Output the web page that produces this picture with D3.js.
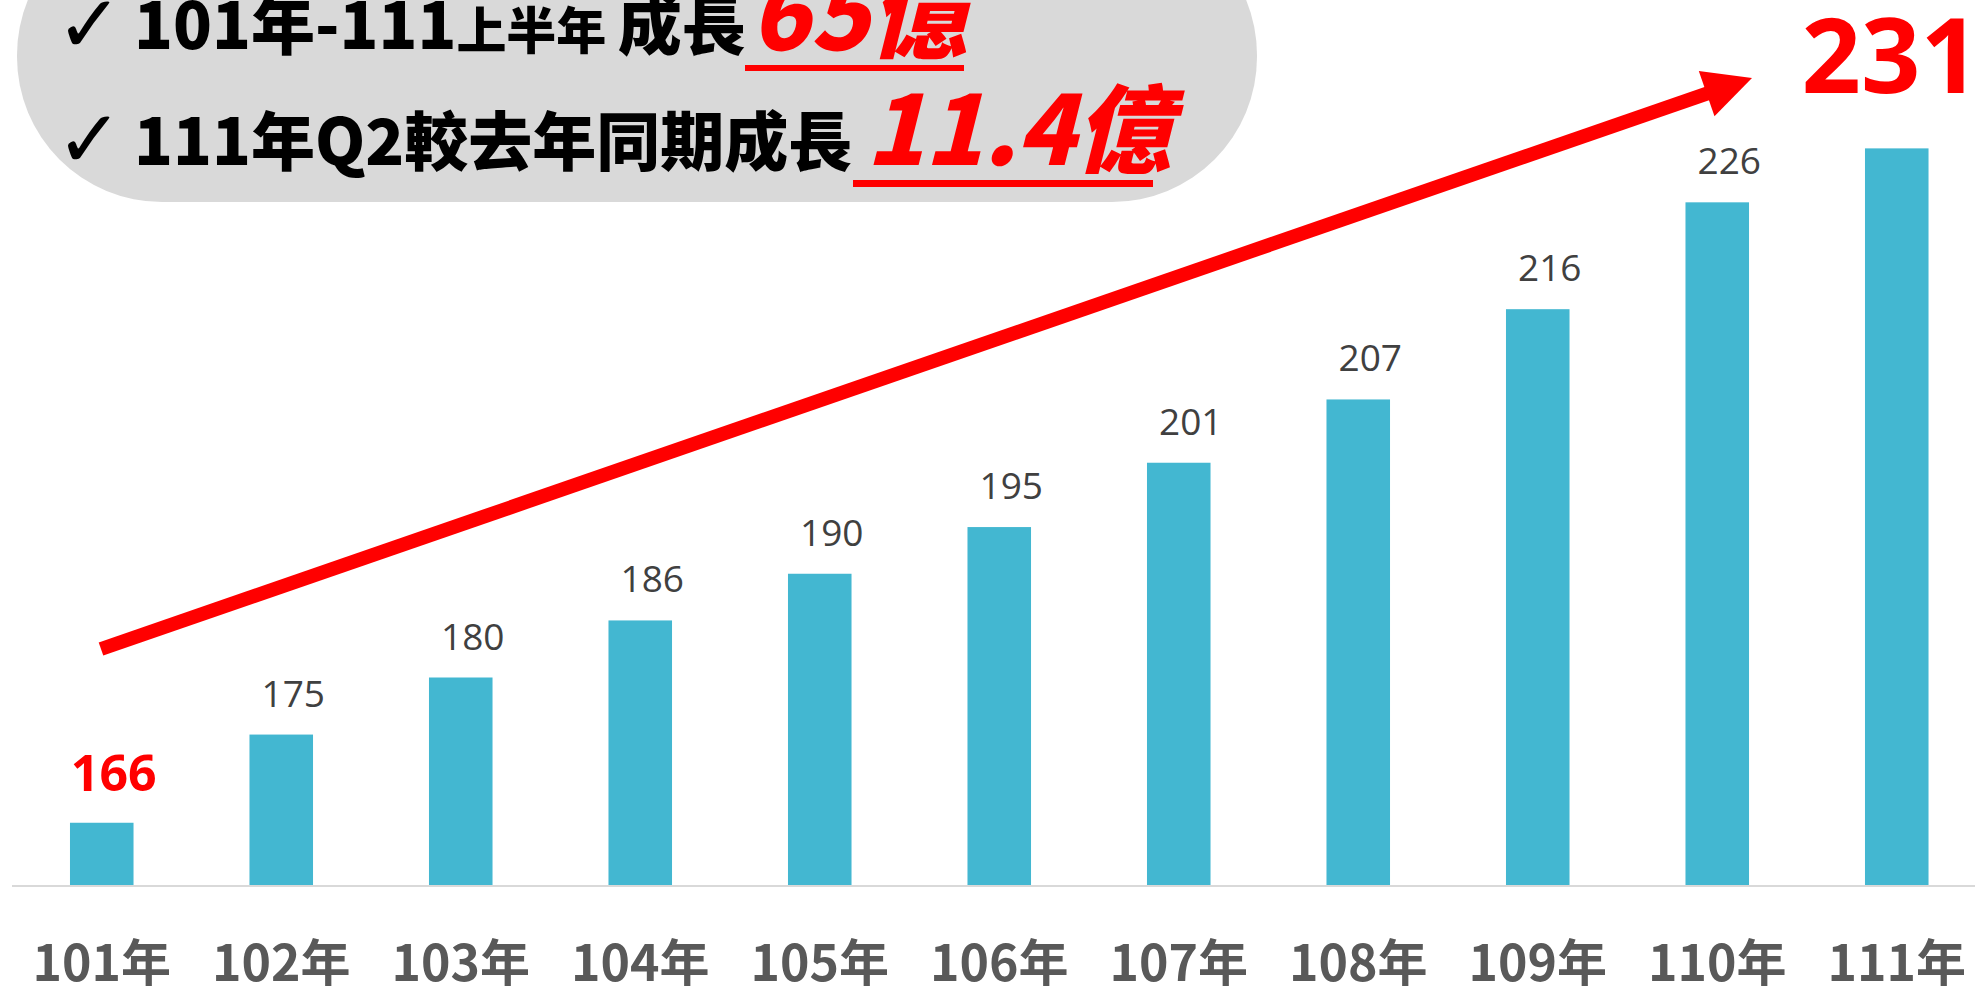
<!DOCTYPE html>
<html>
<head>
<meta charset="utf-8">
<style>
  body { margin: 0; background: #fff; }
  svg { display: block; }
</style>
</head>
<body>
<svg></svg>
<script src="https://cdn.jsdelivr.net/npm/d3@7"></script>
<script>
  // data (億元)
  const years = ['101年', '102年', '103年', '104年', '105年', '106年', '107年', '108年', '109年', '110年', '111年'];
  const values = [166, 174.5, 180, 185.5, 190, 194.5, 200.7, 206.8, 215.5, 225.8, 231];
  const yDomain = [160, 240];

  const width = 1975, height = 987;
  const svg = d3.select('svg').attr('width', width).attr('height', height);

  const x = d3.scaleBand().domain(years).range([12, 1986.5])
      .paddingInner(0.646).paddingOuter(0.323);
  const y = d3.scaleLinear().domain(yDomain).range([885, 55]);
  const cx = d => x(d) + x.bandwidth() / 2;
  const fmt = d3.format('.0f');

  // grey callout box behind the headline
  svg.append('rect')
      .attr('x', 17).attr('y', -90)
      .attr('width', 1240).attr('height', 292)
      .attr('rx', 145).attr('ry', 145)
      .style('fill', '#d9d9d9');

  // bars
  svg.append('g').selectAll('rect')
      .data(years)
      .enter().append('rect')
      .attr('x', d => x(d))
      .attr('y', (d, i) => y(values[i]))
      .attr('width', x.bandwidth())
      .attr('height', (d, i) => y(yDomain[0]) - y(values[i]))
      .style('fill', '#43b7d1');

  // baseline
  svg.append('line')
      .attr('x1', 12).attr('x2', width)
      .attr('y1', y(yDomain[0]) + 1).attr('y2', y(yDomain[0]) + 1)
      .style('stroke', '#d9d9d9').style('stroke-width', 2);

  // category labels (bottom edge clips them, as in the original)
  svg.append('g').selectAll('text')
      .data(years)
      .enter().append('text')
      .attr('x', d => cx(d))
      .attr('y', 981)
      .attr('text-anchor', 'middle')
      .style('font-family', '"Noto Sans CJK TC", sans-serif')
      .style('font-weight', 700)
      .style('font-size', '50px')
      .style('fill', '#595959')
      .text(d => d);

  // value labels (first and last highlighted in red)
  const last = years.length - 1;
  svg.append('g').selectAll('text')
      .data(years)
      .enter().append('text')
      .attr('x', (d, i) => i === last ? cx(d) - 6 : cx(d) + 12)
      .attr('y', (d, i) => i === last ? y(values[i]) - 55 : y(values[i]) - (i === 0 ? 32 : 28))
      .attr('text-anchor', 'middle')
      .style('font-family', '"Open Sans", "Noto Sans", sans-serif')
      .style('font-weight', (d, i) => (i === 0 || i === last) ? 700 : 400)
      .style('font-size', (d, i) => i === last ? '104px' : (i === 0 ? '50px' : '37px'))
      .style('fill', (d, i) => (i === 0 || i === last) ? '#ff0000' : '#404040')
      .text((d, i) => fmt(values[i]));

  // trend arrow
  const a0 = [101, 649], a1 = [1752, 78];
  const ang = Math.atan2(a1[1] - a0[1], a1[0] - a0[0]);
  const headLen = 48, headHalf = 24;
  const bx = a1[0] - headLen * Math.cos(ang), by = a1[1] - headLen * Math.sin(ang);
  svg.append('line')
      .attr('x1', a0[0]).attr('y1', a0[1])
      .attr('x2', bx + 4 * Math.cos(ang)).attr('y2', by + 4 * Math.sin(ang))
      .style('stroke', '#ff0000').style('stroke-width', 14);
  svg.append('polygon')
      .attr('points', [
        a1,
        [bx - headHalf * Math.sin(ang), by + headHalf * Math.cos(ang)],
        [bx + headHalf * Math.sin(ang), by - headHalf * Math.cos(ang)]
      ].map(p => p.join(',')).join(' '))
      .style('fill', '#ff0000');

  // headline text
  const cjk = '"Noto Sans CJK TC", sans-serif';
  const head = svg.append('g').style('font-family', cjk).style('font-weight', 900);

  head.selectAll('text.check')
      .data([52, 167])
      .enter().append('text')
      .attr('class', 'check')
      .attr('x', 56).attr('y', d => d)
      .style('font-family', '"DejaVu Sans", sans-serif')
      .style('font-weight', 400)
      .style('font-size', '80px')
      .style('fill', '#000')
      .text('\u2713');

  const l1 = head.append('text').attr('x', 134).attr('y', 49).style('fill', '#000');
  l1.append('tspan').style('font-size', '64px').text('101年-111');
  l1.append('tspan').style('font-size', '50px').text('上半年 ');
  l1.append('tspan').style('font-size', '64px').text('成長');
  head.append('text').attr('x', 750).attr('y', 50)
      .style('font-size', '98px').style('font-style', 'italic').style('fill', '#ff0000')
      .text('65億');
  head.append('rect').attr('x', 745).attr('y', 65).attr('width', 219).attr('height', 6)
      .style('fill', '#ff0000');

  head.append('text').attr('x', 134).attr('y', 165)
      .style('font-size', '64px').style('fill', '#000')
      .text('111年Q2較去年同期成長');
  head.append('text').attr('x', 866).attr('y', 165)
      .style('font-size', '96px').style('font-style', 'italic').style('fill', '#ff0000')
      .text('11.4億');
  head.append('rect').attr('x', 853).attr('y', 180).attr('width', 300).attr('height', 7)
      .style('fill', '#ff0000');
</script>
</body>
</html>
